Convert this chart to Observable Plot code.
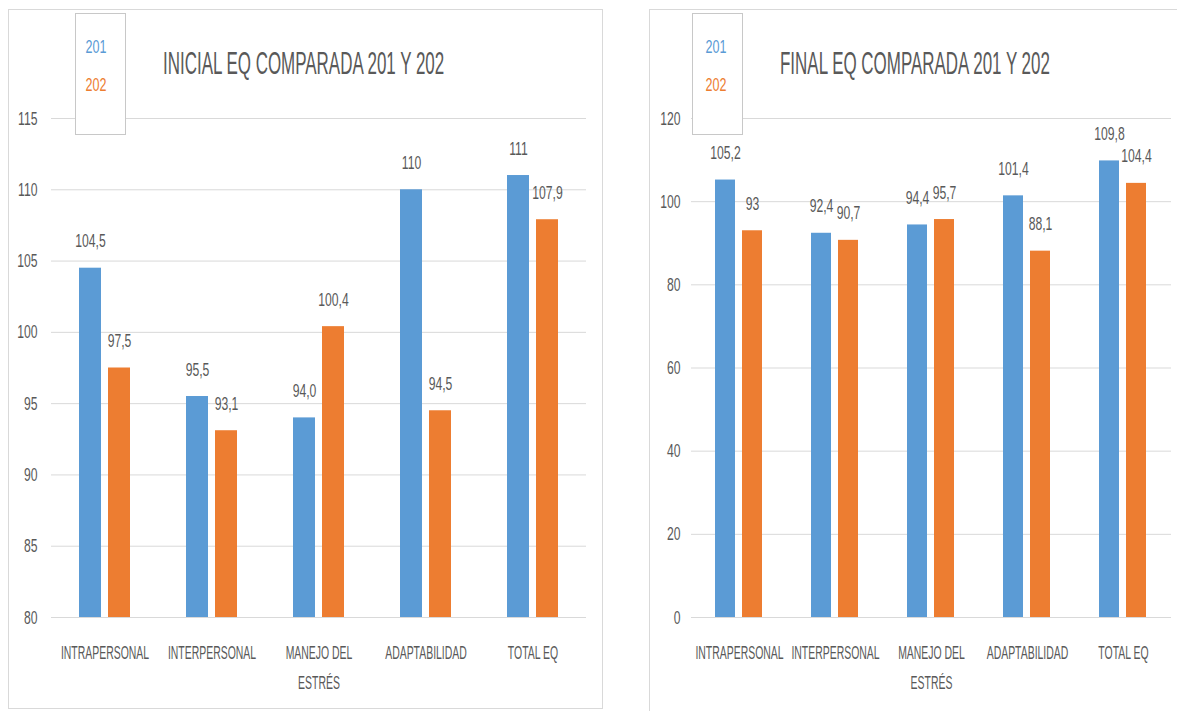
<!DOCTYPE html>
<html>
<head>
<meta charset="utf-8">
<script src="https://cdn.jsdelivr.net/npm/d3@7"></script>
<script src="https://cdn.jsdelivr.net/npm/@observablehq/plot@0.6"></script>
<style>
  body { margin: 0; background: #fff; font-family: "Liberation Sans", Arial, sans-serif; }
  #page { position: relative; width: 1177px; height: 711px; overflow: hidden; background: #fff; }
  .frame { position: absolute; border: 1px solid #d9d9d9; box-sizing: border-box; z-index: 2; }
  .chart { position: absolute; z-index: 1; }
  .chart svg { max-width: none; }
  .legend { position: absolute; border: 1px solid #c8c8c8; background: #fff; box-sizing: border-box; z-index: 3; }
  .legend span { position: absolute; font-size: 19px; line-height: 1; white-space: nowrap;
                 transform: translate(-50%, -50%) scaleX(0.66); }
  .title { position: absolute; z-index: 3; font-size: 32px; line-height: 1; color: #595959; white-space: nowrap;
           transform-origin: 0 50%; transform: translateY(-50%) scaleX(0.53); }
</style>
</head>
<body>
<div id="page"></div>
<script>
// Categories and series
const categories = ["INTRAPERSONAL", "INTERPERSONAL", "MANEJO DEL ESTRÉS", "ADAPTABILIDAD", "TOTAL EQ"];
const series = ["201", "202"];
const colors = ["#5b9bd5", "#ed7d31"];

// Initial scores
const inicial201 = [104.5, 95.5, 94.0, 110, 111];
const inicial202 = [97.5, 93.1, 100.4, 94.5, 107.9];
const inicialLabels201 = ["104,5", "95,5", "94,0", "110", "111"];
const inicialLabels202 = ["97,5", "93,1", "100,4", "94,5", "107,9"];
const inicialTicks = [80, 85, 90, 95, 100, 105, 110, 115];

// Final scores
const final201 = [105.2, 92.4, 94.4, 101.4, 109.8];
const final202 = [93, 90.7, 95.7, 88.1, 104.4];
const finalLabels201 = ["105,2", "92,4", "94,4", "101,4", "109,8"];
const finalLabels202 = ["93", "90,7", "95,7", "88,1", "104,4"];
const finalTicks = [0, 20, 40, 60, 80, 100, 120];

const page = document.getElementById("page");

function rowsFor(v201, v202, l201, l202) {
  const rows = [];
  categories.forEach((c, i) => {
    rows.push({cat: c, serie: series[0], value: v201[i], label: l201[i]});
    rows.push({cat: c, serie: series[1], value: v202[i], label: l202[i]});
  });
  return rows;
}

// Squeeze each text horizontally around its anchor to mimic a narrow typeface
function condense(svg) {
  svg.querySelectorAll("text").forEach(t => {
    const s = t.textContent;
    if (!s) return;
    const k = /[A-Z]/.test(s) ? 0.55 : 0.64;
    const tr = t.getAttribute("transform") || "";
    t.setAttribute("transform", (tr + ` scale(${k},1)`).trim());
  });
}

function addEl(cls, style, html) {
  const d = document.createElement("div");
  d.className = cls;
  Object.assign(d.style, style);
  if (html) d.innerHTML = html;
  page.appendChild(d);
  return d;
}

function drawChart(cfg) {
  const rows = rowsFor(cfg.v201, cfg.v202, cfg.l201, cfg.l202);
  const ymin = cfg.ticks[0];
  const svg = Plot.plot({
    width: cfg.width,
    height: 605,
    marginLeft: 50,
    marginRight: cfg.marginRight,
    marginTop: 18,
    marginBottom: 88,
    style: {fontFamily: "'Liberation Sans', Arial, sans-serif", background: "transparent", overflow: "visible"},
    fx: {domain: categories, padding: 0, label: null},
    x: {domain: series, paddingInner: cfg.pi, paddingOuter: cfg.po, axis: null},
    y: {domain: [cfg.ticks[0], cfg.ticks[cfg.ticks.length - 1]], label: null},
    color: {domain: series, range: colors},
    marks: [
      Plot.ruleY(cfg.ticks, {stroke: "#d9d9d9", strokeWidth: 1}),
      Plot.barY(rows, {fx: "cat", x: "serie", y1: ymin, y2: "value", fill: "serie"}),
      Plot.text(rows, {fx: "cat", x: "serie", y: "value", text: "label", dy: -27,
                       fill: "#595959", fontSize: 19}),
      Plot.axisY({ticks: cfg.ticks, tickSize: 0, tickPadding: cfg.tickPadding, fontSize: 19,
                  color: "#595959", label: null}),
      Plot.axisFx({anchor: "bottom", tickSize: 0, tickPadding: 20, fontSize: 19, lineHeight: 1.6,
                   color: "#595959", label: null,
                   tickFormat: d => d.replace("DEL ", "DEL\n")})
    ]
  });
  const holder = addEl("chart", {left: cfg.left + "px", top: "100px"});
  holder.appendChild(svg);
  condense(svg);

  // frame, legend and title
  addEl("frame", cfg.frame);
  addEl("legend", {left: cfg.legend[0] + "px", top: "13px", width: "51px", height: "122px"},
    `<span style="left:${cfg.legendText}px;top:32px;color:${colors[0]}">${series[0]}</span>` +
    `<span style="left:${cfg.legendText}px;top:70px;color:${colors[1]}">${series[1]}</span>`);
  addEl("title", {left: cfg.titleX + "px", top: "63px"}, cfg.title);
}

drawChart({
  title: "INICIAL EQ COMPARADA 201 Y 202",
  v201: inicial201, v202: inicial202, l201: inicialLabels201, l202: inicialLabels202,
  ticks: inicialTicks,
  left: 0, width: 602, marginRight: 15, tickPadding: 14,
  pi: 0.233, po: 0.907,
  frame: {left: "8px", top: "9px", width: "595px", height: "700px"},
  legend: [75], legendText: 20, titleX: 163
});

drawChart({
  title: "FINAL EQ COMPARADA 201 Y 202",
  v201: final201, v202: final202, l201: finalLabels201, l202: finalLabels202,
  ticks: finalTicks,
  left: 640, width: 537, marginRight: 5, tickPadding: 11,
  pi: 0.25, po: 0.846,
  frame: {left: "649px", top: "9px", width: "560px", height: "710px"},
  legend: [692], legendText: 23, titleX: 780
});
</script>
</body>
</html>
